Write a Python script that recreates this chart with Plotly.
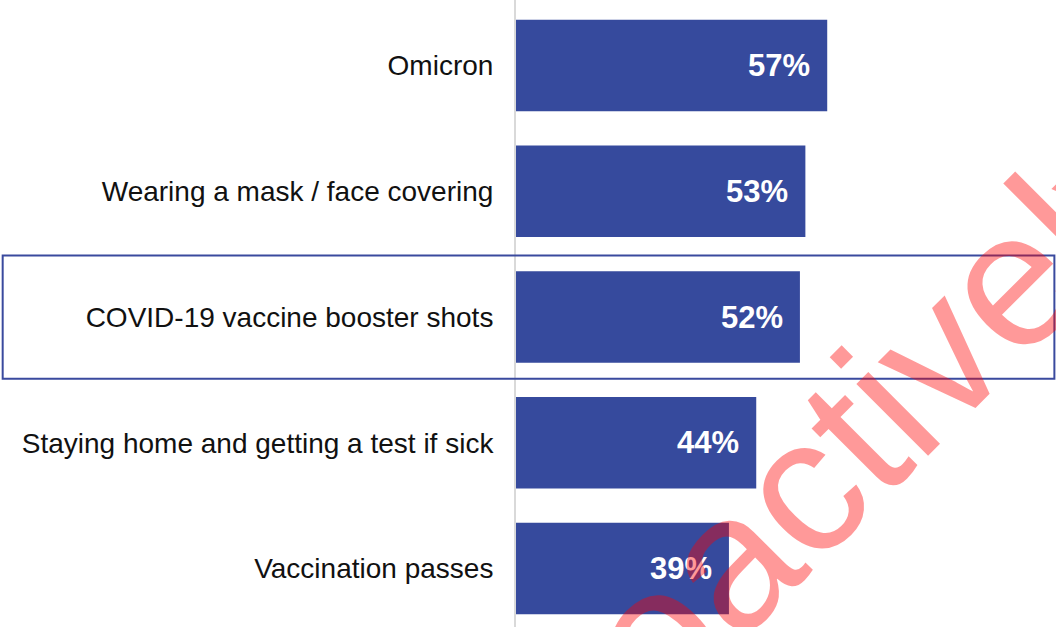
import plotly.graph_objects as go

# Share of respondents who have seen / heard about each topic
topics = [
    "Omicron",
    "Wearing a mask / face covering",
    "COVID-19 vaccine booster shots",
    "Staying home and getting a test if sick",
    "Vaccination passes",
]
shares = [57, 53, 52, 44, 39]
value_labels = [f"{v}%" for v in shares]
highlight_topic = "COVID-19 vaccine booster shots"
watermark_text = "proactively"

BAR_COLOR = "#364a9d"
FONT = "Liberation Sans, Arial, sans-serif"

fig = go.Figure(
    go.Bar(
        x=shares,
        y=topics,
        orientation="h",
        marker=dict(color=BAR_COLOR, line=dict(width=0)),
        hoverinfo="skip",
    )
)

# value labels inside the bar ends
for topic, v, lab in zip(topics, shares, value_labels):
    fig.add_annotation(
        x=v, y=topic, xref="x", yref="y",
        text=f"<b>{lab}</b>", showarrow=False,
        xanchor="right", yanchor="middle", xshift=-15,
        font=dict(family=FONT, size=31, color="white"),
    )

# frame around the highlighted row
hi = topics.index(highlight_topic)
fig.add_shape(
    type="rect", xref="paper", yref="y",
    x0=-0.9506, x1=0.997, y0=hi - 0.49, y1=hi + 0.49,
    line=dict(color="#3a4a9e", width=2), fillcolor="rgba(0,0,0,0)",
    layer="above",
)

# diagonal watermark
fig.add_annotation(
    x=0.561, y=0.25, xref="paper", yref="paper",
    text=watermark_text, showarrow=False, textangle=-45,
    xanchor="center", yanchor="middle",
    font=dict(family=FONT, size=192, color="rgba(255,0,0,0.4)"),
)

fig.update_layout(
    width=1056, height=627,
    margin=dict(l=516, r=0, t=0, b=0),
    paper_bgcolor="white", plot_bgcolor="white",
    showlegend=False,
    bargap=0.271,
    xaxis=dict(range=[0, 98.9], showgrid=False, zeroline=False,
               showticklabels=False, showline=False, fixedrange=True),
    yaxis=dict(
        type="category", categoryarray=topics,
        range=[4.465, -0.521],
        showgrid=False, zeroline=False,
        showline=True, linecolor="#d9d9d9", linewidth=2,
        ticks="", ticklabelstandoff=15,
        tickfont=dict(family=FONT, size=28, color="#111111"),
        fixedrange=True,
    ),
)

fig.write_html("out.html", config={"displayModeBar": False})
